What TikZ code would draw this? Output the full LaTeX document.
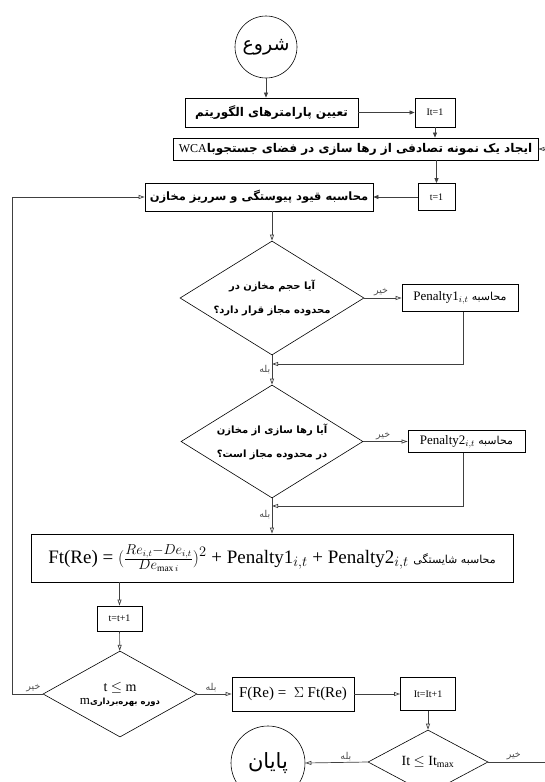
\documentclass[tikz,border=0pt]{standalone}
\usepackage{fontspec}
\setmainfont{Liberation Serif}
\newfontfamily\fa[Script=Arabic]{DejaVu Sans}
\TeXXeTstate=1
\usetikzlibrary{shapes.geometric,arrows.meta}

\begin{document}
\begin{tikzpicture}[x=1pt, y=-1pt,
  box/.style={draw, line width=0.8pt, inner sep=1pt, font=\fa\bfseries\fontsize{12}{14}\selectfont},
  small/.style={draw, line width=0.8pt, inner sep=1pt, font=\fontsize{10}{12}\selectfont},
  decision/.style={diamond, aspect=1.6, draw, line width=0.6pt, inner sep=0pt, align=center},
  term/.style={circle, draw, line width=0.6pt, inner sep=0pt, font=\fa\fontsize{19}{22}\selectfont},
  lbl/.style={font=\fa\fontsize{9.5}{11}\selectfont, text=black!70, inner sep=1.5pt},
  arr/.style={draw=black!75, line width=0.7pt, -{Triangle[length=5pt,width=4pt]}},
  oarr/.style={draw=black!75, line width=0.7pt, -{Triangle[open,length=6pt,width=4pt]}}]
\useasboundingbox (0,0) rectangle (545,782);

% Start and initialisation
\node[term, minimum size=62] (start) at (266,47) {\beginR شروع\endR};
\node[box, minimum width=173, minimum height=29] (params) at (271.5,112.5) {\beginR تعیین پارامترهای الگوریتم\endR};
\node[small, minimum width=40, minimum height=29] (itinit) at (435,112.5) {It=1};
\node[box, minimum width=365, minimum height=22] (init) at (355.5,149) {\beginR ایجاد یک نمونه تصادفی از رها سازی در فضای جستجوبا\beginL{\normalfont WCA}\endL\endR};
\node[small, minimum width=37, minimum height=27] (tinit) at (436.5,197) {t=1};
\node[box, minimum width=228, minimum height=28, font=\fa\bfseries\fontsize{11.5}{14}\selectfont] (constr) at (259,197) {\beginR محاسبه قیود پیوستگی و سرریز مخازن\endR};

% Penalty checks
\node[decision, minimum width=184, minimum height=114, font=\fa\bfseries\fontsize{10}{24}\selectfont] (checkvol) at (272,298) {\beginR آیا حجم مخازن در\endR\\\beginR محدوده مجاز قرار دارد؟\endR};
\node[small, minimum width=116, minimum height=27, font=\fontsize{13}{15}\selectfont] (pen1) at (460,298) {\beginR{\fa\fontsize{11}{13}\selectfont محاسبه} \beginL Penalty1$_{i,t}$\endL\endR};
\node[decision, minimum width=182, minimum height=113, font=\fa\bfseries\fontsize{10}{24}\selectfont] (checkrel) at (272,441.5) {\beginR آیا رها سازی از مخازن\endR\\\beginR در محدوده مجاز است؟\endR};
\node[small, minimum width=117, minimum height=22, font=\fontsize{13}{15}\selectfont] (pen2) at (466.5,441.5) {\beginR{\fa\fontsize{11}{13}\selectfont محاسبه} \beginL Penalty2$_{i,t}$\endL\endR};
\coordinate (join1) at (272,364);
\coordinate (join2) at (272,506);

% Fitness and loops
\node[small, minimum width=482, minimum height=48, inner sep=2pt, font=\fontsize{19}{22}\selectfont] (fit) at (272,558) {\beginR{\fa\fontsize{11}{13}\selectfont محاسبه شایستگی} \beginL Ft(Re) = $(\frac{Re_{i,t}-De_{i,t}}{De_{\max i}})^2$ + Penalty1$_{i,t}$ + Penalty2$_{i,t}$\endL\endR};
\node[small, minimum width=45, minimum height=25] (tinc) at (119.5,618.5) {t=t+1};
\node[decision, aspect=1.8, minimum width=154, minimum height=86] (checkt) at (120,694) {{\fontsize{14}{16}\selectfont t $\leq$ m}\\[1pt]\beginR{\fa\bfseries\fontsize{8.5}{10}\selectfont دوره بهره‌برداری}\beginL{\fontsize{13}{15}\selectfont m}\endL\endR};
\node[small, minimum width=122, minimum height=34, font=\fontsize{15}{18}\selectfont] (total) at (293,694) {F(Re) = \ $\Sigma$ Ft(Re)};
\node[small, minimum width=55, minimum height=33] (itinc) at (428,694) {It=It+1};
\node[decision, aspect=1.9, minimum width=120, minimum height=64, font=\fontsize{14}{16}\selectfont] (checkit) at (428,762) {It $\leq$ It$_{\mathrm{max}}$};
\node[term, minimum size=74, font=\fa\fontsize{21}{24}\selectfont] (stop) at (268,763) {\beginR پایان\endR};
\coordinate (loopL) at (12,197);
\coordinate (loopR) at (552,149);

% Connectors
\draw[arr] (start) -- (start |- params.north);
\draw[arr] (params) -- (itinit);
\draw[arr] (itinit) -- (itinit |- init.north);
\draw[arr] (tinit |- init.south) -- (tinit);
\draw[arr] (tinit) -- (constr);
\draw[oarr] (checkvol |- constr.south) -- (checkvol.north);
\draw[oarr] (checkvol.east) -- node[lbl, above, pos=0.45] {\beginR خیر\endR} (pen1.west);
\draw[oarr] (pen1.south -| 463,0) |- (join1);
\draw[oarr] (checkvol.south) -- node[lbl, left, pos=0.5] {\beginR بله\endR} (checkrel.north);
\draw[oarr] (checkrel.east) -- node[lbl, above, pos=0.45] {\beginR خیر\endR} (pen2.west);
\draw[oarr] (pen2.south -| 463,0) |- (join2);
\draw[oarr] (checkrel.south) -- node[lbl, left, pos=0.45] {\beginR بله\endR} (checkrel.south |- fit.north);
\draw[oarr] (tinc |- fit.south) -- (tinc);
\draw[oarr] (tinc) -- (checkt);
\draw[oarr] (checkt.west) -- node[lbl, above, pos=0.3] {\beginR خیر\endR} (checkt.west -| loopL) -- (loopL) -- (constr.west);
\draw[oarr] (checkt.east) -- node[lbl, above, pos=0.4] {\beginR بله\endR} (total.west);
\draw[oarr] (total) -- (itinc);
\draw[oarr] (itinc) -- (checkit);
\draw[oarr] (checkit.west) -- node[lbl, above, pos=0.35] {\beginR بله\endR} (stop.east);
\draw[oarr] (checkit.east) -- node[lbl, above, pos=0.4] {\beginR خیر\endR} (checkit.east -| loopR) -- (loopR) -- (init.east);
\end{tikzpicture}
\end{document}
